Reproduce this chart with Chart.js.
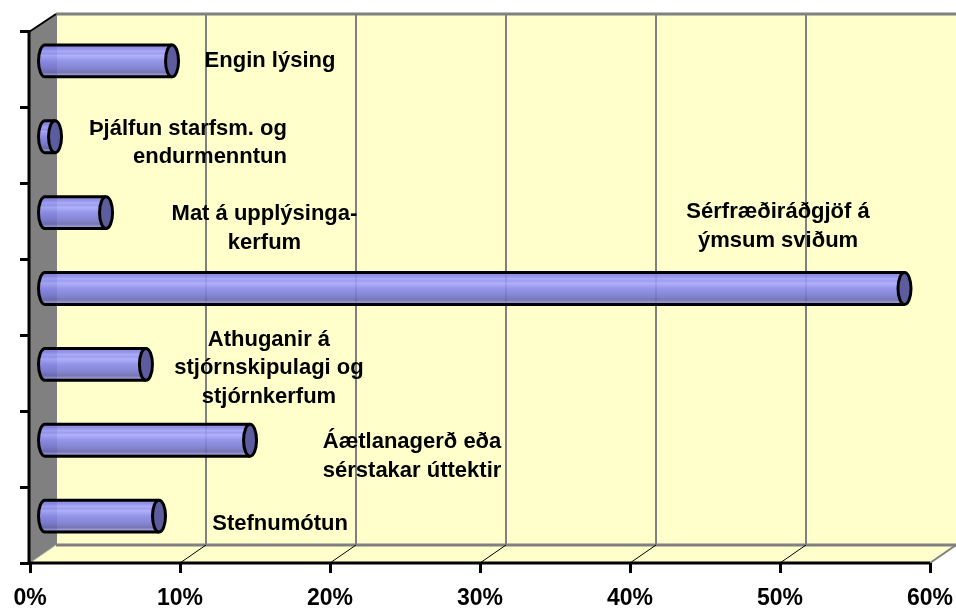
<!DOCTYPE html>
<html><head><meta charset="utf-8">
<style>html,body{margin:0;padding:0;background:#fff}#w{position:relative;width:956px;height:608px}canvas{display:block}</style>
<script src="https://cdn.jsdelivr.net/npm/chart.js@4"></script></head>
<body><div id="w"><canvas id="c" width="956" height="608"></canvas></div>
<script>
const categories=[["Engin lýsing"],["Þjálfun starfsm. og","endurmenntun"],["Mat á upplýsinga-","kerfum"],["Sérfræðiráðgjöf á","ýmsum sviðum"],["Athuganir á","stjórnskipulagi og","stjórnkerfum"],["Áætlanagerð eða","sérstakar úttektir"],["Stefnumótun"]];
const values=[8.57,0.77,4.17,57.4,6.83,13.77,7.7];
const tickValues=[0,10,20,30,40,50,60];
const labelAtPercent=[16,17.13,15.63,49.87,15.93,25.47,16.67];
const labelAlign=['center','right','center','center','center','center','center'];
const labelShift=[0,6,16,-62,4,16,8];
const depthX=26, depthY=18, barShiftX=13.5, barShiftY=9, capRx=6.5, barHalf=16;
const wallFill='#ffffcc', sideFill='#808080';
function barGradient(ctx,top,bottom){
  const g=ctx.createLinearGradient(0,top,0,bottom);
  [[0,'rgba(122,122,220,.9)'],[.12,'rgba(138,138,236,.9)'],[.2,'rgba(162,162,252,.9)'],[.27,'rgba(146,146,244,.9)'],[.33,'rgba(168,168,255,.9)'],[.5,'rgba(138,138,236,.9)'],[.72,'rgba(120,120,212,.9)'],[.86,'rgba(104,104,176,.9)'],[.92,'rgba(140,140,208,.9)'],[1,'rgba(112,112,186,.9)']].forEach(s=>g.addColorStop(s[0],s[1]));
  return g;
}
const room={id:'room',
  beforeDraw(chart){
    const {ctx,chartArea:a,scales:{x}}=chart;
    ctx.save();
    ctx.fillStyle=wallFill;
    ctx.fillRect(a.left+depthX,a.top-depthY,a.right-a.left,a.bottom-a.top);
    ctx.beginPath();ctx.moveTo(a.left,a.bottom);ctx.lineTo(a.right,a.bottom);ctx.lineTo(a.right+depthX,a.bottom-depthY);ctx.lineTo(a.left+depthX,a.bottom-depthY);ctx.closePath();ctx.fill();
    ctx.fillStyle=sideFill;
    ctx.beginPath();ctx.moveTo(a.left,a.top);ctx.lineTo(a.left+depthX,a.top-depthY);ctx.lineTo(a.left+depthX,a.bottom-depthY);ctx.lineTo(a.left,a.bottom);ctx.closePath();ctx.fill();
    ctx.strokeStyle='#808080';ctx.lineWidth=2;
    tickValues.slice(1,-1).forEach(v=>{const p=Math.round(x.getPixelForValue(v))+depthX;ctx.beginPath();ctx.moveTo(p,a.top-depthY);ctx.lineTo(p,a.bottom-depthY);ctx.stroke();});
    ctx.lineWidth=3;
    ctx.beginPath();ctx.moveTo(a.left+depthX,a.top-depthY);ctx.lineTo(a.right+depthX,a.top-depthY);ctx.stroke();
    ctx.beginPath();ctx.moveTo(a.left+depthX,a.bottom-depthY);ctx.lineTo(a.right+depthX,a.bottom-depthY);ctx.stroke();
    ctx.lineWidth=2;
    ctx.beginPath();ctx.moveTo(a.left+depthX,a.top-depthY);ctx.lineTo(a.left+depthX,a.bottom-depthY);ctx.stroke();
    ctx.beginPath();ctx.moveTo(a.right,a.bottom);ctx.lineTo(a.right+depthX,a.bottom-depthY);ctx.stroke();
    ctx.lineWidth=1;ctx.strokeStyle='#bdbdb0';
    ctx.beginPath();ctx.moveTo(a.left,a.bottom);ctx.lineTo(a.left+depthX,a.bottom-depthY);ctx.stroke();
    ctx.strokeStyle='#000';ctx.lineWidth=1;
    tickValues.slice(1,-1).forEach(v=>{const p=x.getPixelForValue(v);ctx.beginPath();ctx.moveTo(p,a.bottom);ctx.lineTo(p+depthX,a.bottom-depthY);ctx.stroke();});
    ctx.lineWidth=2;
    ctx.beginPath();ctx.moveTo(a.left-1,a.top);ctx.lineTo(a.left+depthX,a.top-depthY);ctx.stroke();
    ctx.restore();
  },
  beforeDatasetsDraw(chart){
    const {ctx}=chart;
    ctx.save();
    ctx.translate(barShiftX,-barShiftY);
    chart.getDatasetMeta(0).data.forEach(b=>{
      const top=b.y-b.height/2,bot=b.y+b.height/2;
      ctx.beginPath();ctx.ellipse(b.base,b.y,capRx,b.height/2,0,Math.PI/2,Math.PI*1.5);ctx.closePath();
      ctx.fillStyle=barGradient(ctx,top,bot);ctx.fill();
    });
  },
  afterDatasetsDraw(chart){
    const {ctx}=chart;
    chart.getDatasetMeta(0).data.forEach(b=>{
      const top=b.y-b.height/2,bot=b.y+b.height/2;
      ctx.strokeStyle='#000';ctx.lineWidth=3;
      ctx.beginPath();ctx.ellipse(b.base,b.y,capRx,b.height/2,0,Math.PI/2,Math.PI*1.5);ctx.lineTo(b.x,top);ctx.moveTo(b.base,bot);ctx.lineTo(b.x,bot);ctx.stroke();
      ctx.beginPath();ctx.ellipse(b.x,b.y,capRx,b.height/2,0,0,Math.PI*2);ctx.fillStyle='#5c5c9e';ctx.fill();ctx.stroke();
    });
    ctx.restore();
    ctx.save();
    ctx.fillStyle='#000';ctx.font='bold 22px "Liberation Sans",Arial,sans-serif';ctx.textBaseline='middle';
    const x=chart.scales.x;
    chart.getDatasetMeta(0).data.forEach((b,i)=>{
      const lines=categories[i],cx=x.getPixelForValue(labelAtPercent[i]),cy=b.y-barShiftY+labelShift[i];
      ctx.textAlign=labelAlign[i];
      lines.forEach((t,k)=>ctx.fillText(t,cx,cy+(k-(lines.length-1)/2)*28.5));
    });
    ctx.restore();
  }
};
new Chart(document.getElementById('c'),{
  type:'bar',
  data:{labels:categories.map(c=>c.join(' ')),datasets:[{data:values,barPercentage:.42,categoryPercentage:1,borderWidth:0,
    backgroundColor(c){
      const ys=c.chart.scales.y;
      const p=ys&&c.dataIndex!==undefined?ys.getPixelForValue(c.dataIndex):NaN;
      if(!Number.isFinite(p))return '#8888dd';
      return barGradient(c.chart.ctx,p-barHalf,p+barHalf);
    }}]},
  options:{indexAxis:'y',responsive:false,animation:false,
    layout:{padding:{left:0,right:26,top:32,bottom:0}},
    plugins:{legend:{display:false},title:{display:false},tooltip:{enabled:false}},
    scales:{
      x:{min:0,max:60,afterFit(s){s.height=45;s.paddingLeft=0;s.paddingRight=0;},
        afterBuildTicks(s){s.ticks=tickValues.map(v=>({value:v}));},
        border:{display:false},
        grid:{drawOnChartArea:false,drawTicks:true,tickLength:10,color:'#000',lineWidth:3},
        ticks:{maxRotation:0,autoSkip:false,padding:12,color:'#000',font:{family:'"Liberation Sans",Arial,sans-serif',weight:'bold',size:23},callback:v=>v+'%'}},
      y:{afterFit(s){s.width=30;},
        border:{display:false},
        grid:{drawOnChartArea:false,drawTicks:true,tickLength:10,color:'#000',lineWidth:3},
        ticks:{display:false}}
    }},
  plugins:[room, {id:'axisLines',afterDraw(chart){const {ctx,chartArea:a}=chart;ctx.save();ctx.strokeStyle='#000';ctx.lineWidth=3;ctx.beginPath();ctx.moveTo(a.left-1,a.top);ctx.lineTo(a.left-1,a.bottom);ctx.lineTo(a.right,a.bottom);ctx.stroke();ctx.restore();}}]
});
</script></body></html>
